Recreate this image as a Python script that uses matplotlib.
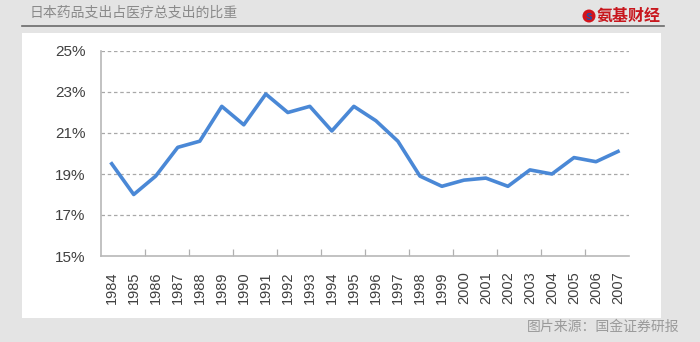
import numpy as np
import matplotlib
matplotlib.use("Agg")
import matplotlib.pyplot as plt
from matplotlib.patches import Rectangle, Ellipse
from matplotlib.lines import Line2D

years = ['1984', '1985', '1986', '1987', '1988', '1989', '1990', '1991',
         '1992', '1993', '1994', '1995', '1996', '1997', '1998', '1999',
         '2000', '2001', '2002', '2003', '2004', '2005', '2006', '2007']
share = [19.5, 18.0, 18.9, 20.3, 20.6, 22.3, 21.4, 22.9,
         22.0, 22.3, 21.1, 22.3, 21.6, 20.6, 18.9, 18.4,
         18.7, 18.8, 18.4, 19.2, 19.0, 19.8, 19.6, 20.1]
yticks = [15, 17, 19, 21, 23, 25]

title = '日本药品支出占医疗总支出的比重'
brand = '氨基财经'
source = '图片来源：国金证券研报'

plt.rcParams['font.family'] = ['Liberation Sans', 'Noto Sans CJK SC', 'DejaVu Sans']
cjk = ['Noto Sans CJK SC', 'DejaVu Sans']

fig = plt.figure(figsize=(7, 3.42), dpi=100)
fig.patch.set_facecolor('#e4e4e4')

# white panel behind the chart
fig.patches.append(Rectangle((22/700, 1-318/342), (661-22)/700, (318-33)/342,
                             transform=fig.transFigure, facecolor='white',
                             edgecolor='none', zorder=-5))
# header rule
fig.lines.append(Line2D([22/700, 664/700], [1-26/342, 1-26/342],
                        transform=fig.transFigure, color='#6a6a6a', lw=1.2))

fig.text(30/700, 1-13/342, title, family=cjk, fontsize=10, color='#8a8a8a',
         va='center', ha='left')
# logo mark
fig.patches.append(Ellipse((589/700, 1-16/342), 13/700, 13/342,
                           transform=fig.transFigure,
                           facecolor='#d2141c', edgecolor='none'))
fig.text(589/700, 1-16.5/342, 's', fontsize=8.5, color='#1f4fa8', fontweight='bold',
         ha='center', va='center')
fig.text(597/700, 1-16/342, brand, family=cjk, fontsize=11.5, color='#c8161d',
         fontweight='bold', va='center', ha='left')
fig.text(680/700, 1-327/342, source, family=cjk, fontsize=10, color='#9a9a9a',
         va='center', ha='right')

ax = fig.add_axes([100.7/700, 1-256/342, (629-100.7)/700, (256-51)/342])
ax.set_zorder(2)
ax.set_facecolor('white')
x = np.arange(len(years))
ax.plot(x, share, color='#4a88d6', lw=2.6, solid_joinstyle='round', zorder=3)

ax.set_xlim(-0.5, len(years) - 0.5)
ax.set_ylim(15, 25)
ax.set_yticks(yticks)
ax.set_yticklabels(['%d%%' % v for v in yticks])
for v in yticks[1:]:
    ax.axhline(v, color='#a8a8a8', lw=0.9, ls=(0, (2.8, 2.2)), zorder=1)

ax.set_xticks(x)
ax.set_xticklabels(years, rotation=90)
ax.set_xticks(np.arange(1.5, len(years) - 1, 2), minor=True)
ax.tick_params(axis='x', which='major', length=0, pad=11, labelsize=10.5,
               labelcolor='#404040')
ax.tick_params(axis='x', which='minor', direction='in', length=5,
               color='#b0b0b0', width=0.9)
ax.tick_params(axis='y', length=0, pad=11, labelsize=11, labelcolor='#404040')

for s in ['top', 'right']:
    ax.spines[s].set_visible(False)
for s in ['left', 'bottom']:
    ax.spines[s].set_color('#b8b8b8')
    ax.spines[s].set_linewidth(1.2)

fig.savefig('out.png', dpi=100, facecolor=fig.get_facecolor())
